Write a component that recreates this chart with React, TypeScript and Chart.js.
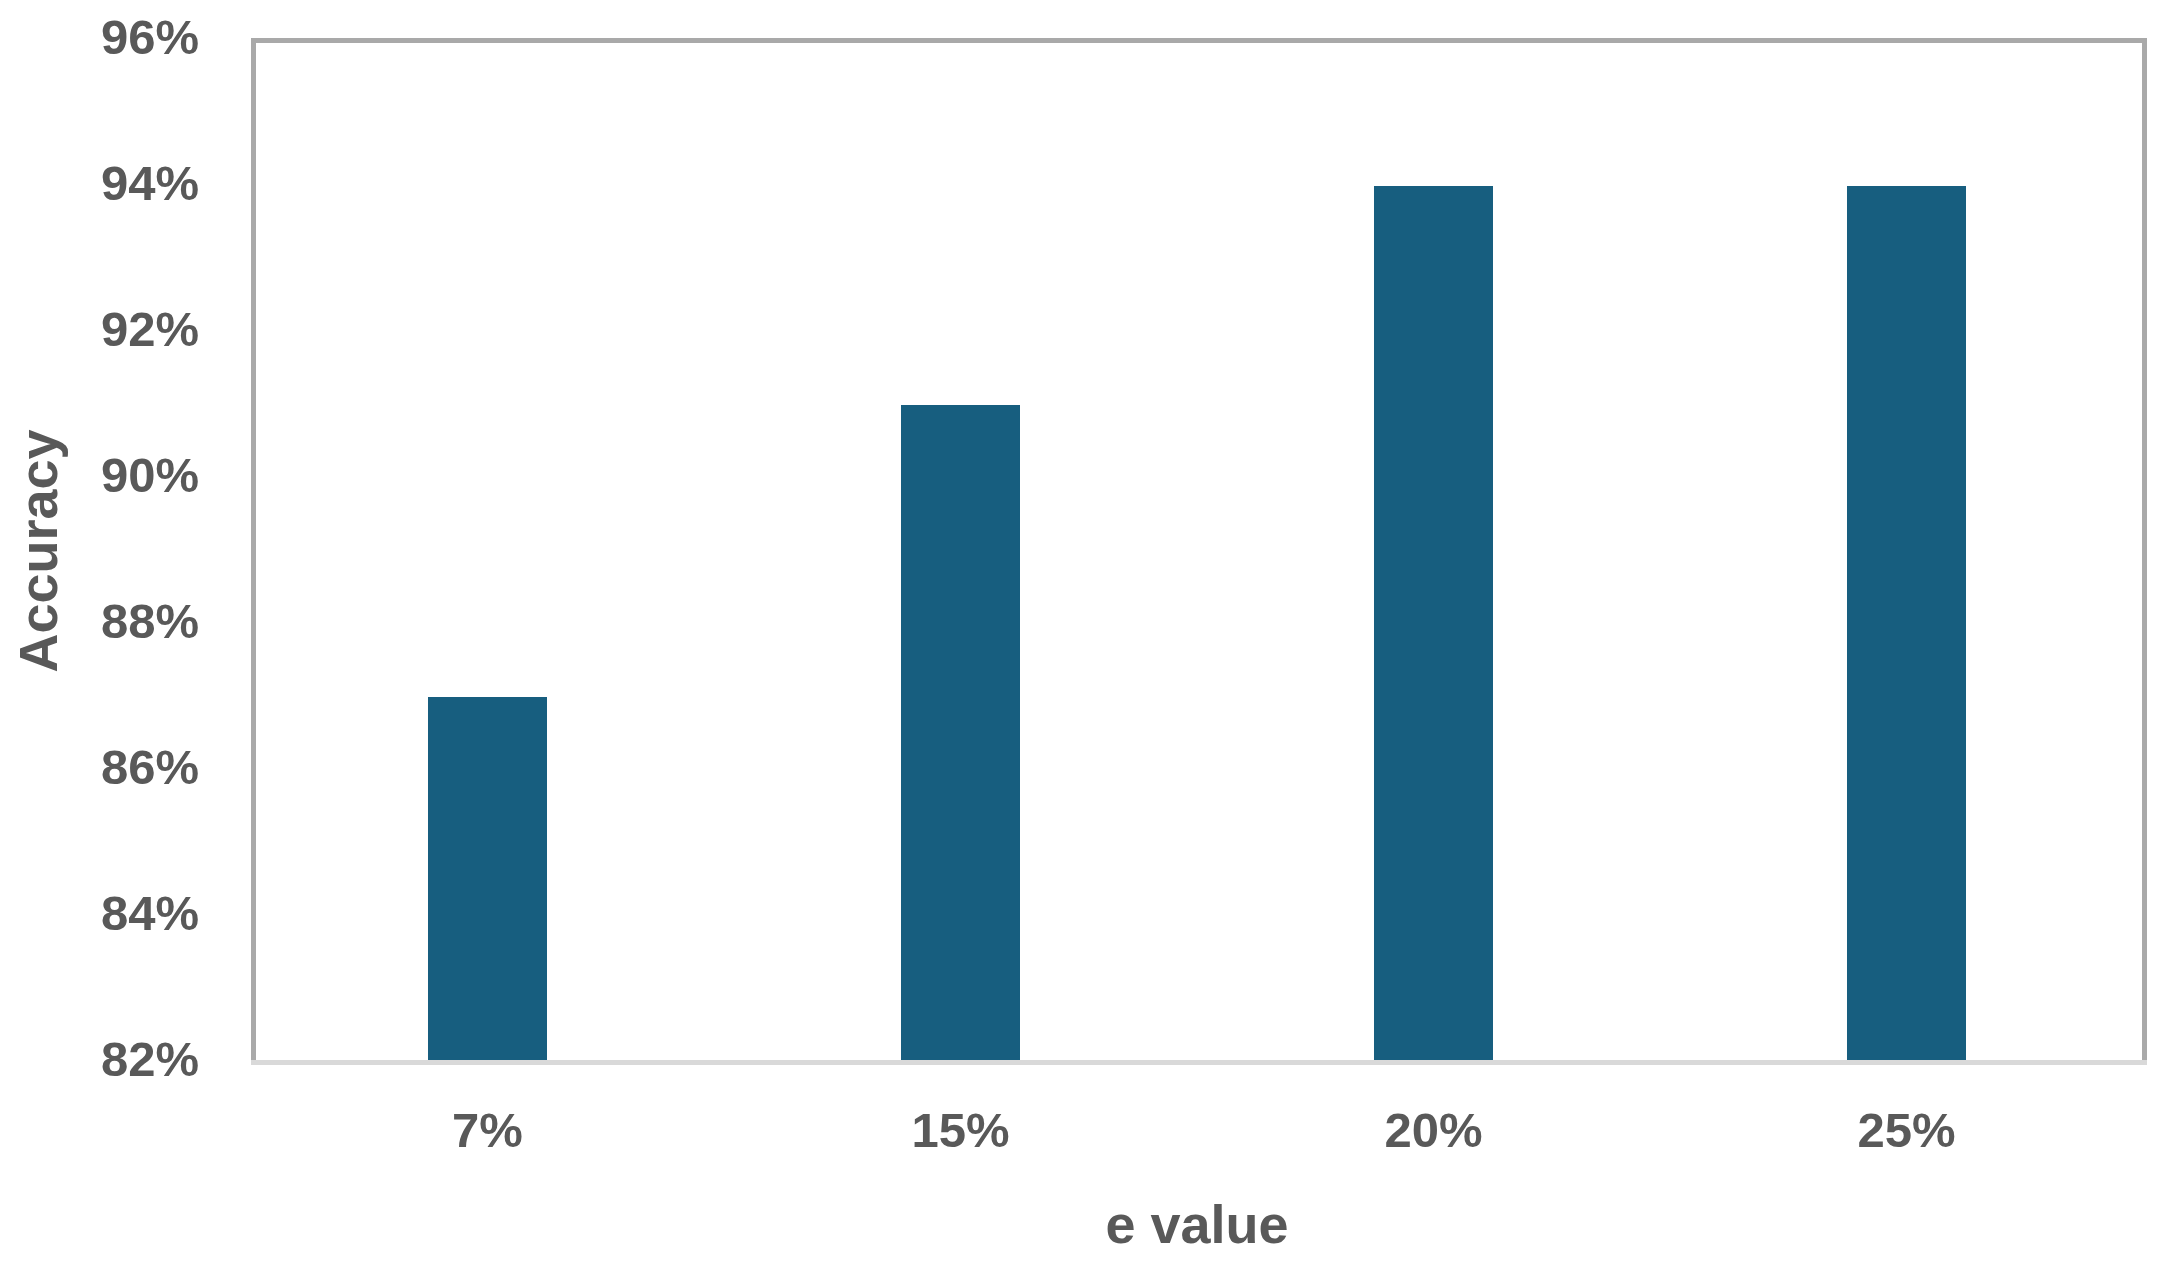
import React, { useEffect, useRef } from "react";
import { Chart, registerables } from "chart.js";

Chart.register(...registerables);

const categories = ["7%", "15%", "20%", "25%"];
const accuracyValues = [87, 91, 94, 94];
const yMin = 82;
const yMax = 96;
const yStep = 2;
const xTitle = "e value";
const yTitle = "Accuracy";

const TEXT = "#595959";
const BAR = "#175e7f";
const FONT = "'Liberation Sans', Arial, sans-serif";

const framePlugin = {
  id: "frame",
  afterDatasetsDraw(chart: any) {
    const { ctx, chartArea } = chart;
    const { left, right, top, bottom } = chartArea;
    ctx.save();
    ctx.fillStyle = "#a9a9a9";
    ctx.fillRect(left, top - 2, right + 4 - left, 5);
    ctx.fillRect(left, top - 2, 5, bottom - top);
    ctx.fillRect(right - 1, top - 2, 5, bottom - top);
    ctx.fillStyle = "#d9d9d9";
    ctx.fillRect(left, bottom - 2, right + 4 - left, 5);
    ctx.restore();
  },
};

export default function App() {
  const ref = useRef<HTMLCanvasElement | null>(null);
  useEffect(() => {
    if (!ref.current) return;
    const chart = new Chart(ref.current, {
      type: "bar",
      data: {
        labels: categories,
        datasets: [
          {
            label: yTitle,
            data: accuracyValues,
            backgroundColor: BAR,
            borderWidth: 0,
            barPercentage: 1,
            categoryPercentage: 0.2516,
          },
        ],
      },
      options: {
        responsive: false,
        devicePixelRatio: 1,
        animation: false,
        layout: { padding: { top: 40, right: 30, left: 0, bottom: 0 } },
        plugins: {
          legend: { display: false },
          tooltip: { enabled: false },
        },
        scales: {
          x: {
            grid: { display: false, drawTicks: false },
            border: { display: false },
            ticks: {
              color: TEXT,
              padding: 47,
              font: { family: FONT, size: 49, weight: "bold", lineHeight: 1 },
            },
            title: {
              display: true,
              text: xTitle,
              color: TEXT,
              padding: { top: 0, bottom: 12 },
              font: { family: FONT, size: 54, weight: "bold", lineHeight: 1 },
            },
            afterFit(scale: any) {
              scale.height = 205;
              scale.paddingLeft = 0;
              scale.paddingRight = 0;
            },
          },
          y: {
            min: yMin,
            max: yMax,
            grid: { display: false, drawTicks: false },
            border: { display: false },
            ticks: {
              stepSize: yStep,
              color: TEXT,
              padding: 52,
              font: { family: FONT, size: 49, weight: "bold", lineHeight: 1 },
              callback: (v: any) => v + "%",
            },
            title: {
              display: true,
              text: yTitle,
              color: TEXT,
              padding: { top: 15, bottom: 0 },
              font: { family: FONT, size: 54, weight: "bold", lineHeight: 1 },
            },
            afterFit(scale: any) {
              scale.width = 251;
              scale.paddingTop = 0;
              scale.paddingBottom = 0;
            },
          },
        },
      },
      plugins: [framePlugin],
    });
    return () => chart.destroy();
  }, []);
  return (
    <div style={{ position: "absolute", left: 0, top: 0, width: 2173, height: 1267, background: "#fff" }}>
      <canvas ref={ref} width={2173} height={1267} style={{ display: "block" }} />
    </div>
  );
}
